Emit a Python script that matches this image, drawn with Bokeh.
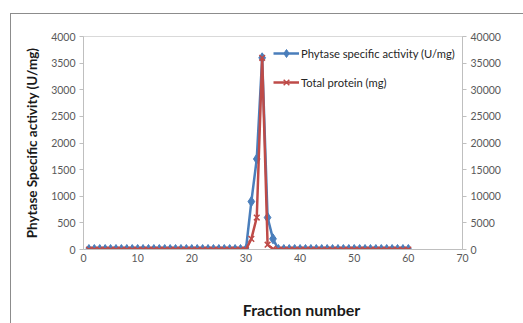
from bokeh.plotting import figure
from bokeh.models import (Range1d, LinearAxis, SingleIntervalTicker, Legend, LegendItem,
                          Label, ColumnDataSource)
from bokeh.embed import file_html
from bokeh.resources import INLINE

fraction = [1, 2, 3, 4, 5, 6, 7, 8, 9, 10, 11, 12, 13, 14, 15, 16, 17, 18, 19, 20,
            21, 22, 23, 24, 25, 26, 27, 28, 29, 30, 31, 32, 33, 34, 35, 36, 37, 38, 39, 40,
            41, 42, 43, 44, 45, 46, 47, 48, 49, 50, 51, 52, 53, 54, 55, 56, 57, 58, 59, 60]
activity = [0, 0, 0, 0, 0, 0, 0, 0, 0, 0, 0, 0, 0, 0, 0, 0, 0, 0, 0, 0,
            0, 0, 0, 0, 0, 0, 0, 0, 0, 0, 900, 1700, 3600, 600, 200, 0, 0, 0, 0, 0,
            0, 0, 0, 0, 0, 0, 0, 0, 0, 0, 0, 0, 0, 0, 0, 0, 0, 0, 0, 0]
protein = [0, 0, 0, 0, 0, 0, 0, 0, 0, 0, 0, 0, 0, 0, 0, 0, 0, 0, 0, 0,
           0, 0, 0, 0, 0, 0, 0, 0, 0, 0, 2000, 6000, 36000, 900, 100, 0, 0, 0, 0, 0,
           0, 0, 0, 0, 0, 0, 0, 0, 0, 0, 0, 0, 0, 0, 0, 0, 0, 0, 0, 0]
x_ticks = (0, 70, 10)
left_ticks = (0, 4000, 500)
right_ticks = (0, 40000, 5000)

BLUE = "#4A7EBB"
RED = "#BE4B48"
FONT = "Lato"

p = figure(width=523, height=323, output_backend="svg", toolbar_location=None,
           x_range=Range1d(x_ticks[0], x_ticks[1]),
           y_range=Range1d(left_ticks[0], left_ticks[1]),
           min_border_left=83, min_border_right=61, min_border_top=36, min_border_bottom=74)
p.extra_y_ranges = {"right": Range1d(right_ticks[0], right_ticks[1])}
p.grid.visible = False
p.outline_line_color = "#D9D9D9"
p.outline_line_width = 1
p.background_fill_color = "white"
p.border_fill_alpha = 0
p.styles = {
    "background": "linear-gradient(#8C8C8C,#8C8C8C) 10px 13px / 1px 100% no-repeat, "
                  "linear-gradient(#8C8C8C,#8C8C8C) 10px 13px / 100% 1px no-repeat, white"
}

def style_axis(ax, interval):
    ax.ticker = SingleIntervalTicker(interval=interval, num_minor_ticks=0)
    ax.minor_tick_line_color = None
    ax.axis_line_color = "#BFBFBF"
    ax.major_tick_line_color = "#BFBFBF"
    ax.major_tick_out = 4
    ax.major_tick_in = 0
    ax.major_label_text_font = FONT
    ax.major_label_text_font_size = "10.5px"
    ax.major_label_text_color = "#595959"
    ax.major_label_standoff = 4

style_axis(p.xaxis[0], x_ticks[2])
style_axis(p.yaxis[0], left_ticks[2])
p.xaxis[0].major_tick_out = 0
p.yaxis[0].axis_label = "Phytase Specific activity (U/mg)"
p.yaxis[0].axis_label_text_font = FONT
p.yaxis[0].axis_label_text_font_style = "bold"
p.yaxis[0].axis_label_text_font_size = "13.5px"
p.yaxis[0].axis_label_text_color = "#1A1A1A"
p.yaxis[0].axis_label_standoff = 8

right = LinearAxis(y_range_name="right")
style_axis(right, right_ticks[2])
p.add_layout(right, "right")

src = ColumnDataSource(dict(f=fraction, a=activity, pr=protein))
l1 = p.line("f", "a", source=src, line_color=BLUE, line_width=2.5)
m1 = p.scatter("f", "a", source=src, marker="diamond", size=10, fill_color=BLUE, line_color=BLUE)
l2 = p.line("f", "pr", source=src, y_range_name="right", line_color=RED, line_width=2.5)
m2 = p.scatter("f", "pr", source=src, y_range_name="right", marker="x", size=8,
               line_color=RED, line_width=1.5)

legend = Legend(items=[LegendItem(label="Phytase specific activity (U/mg)", renderers=[l1, m1]),
                       LegendItem(label="Total protein (mg)", renderers=[l2, m2])],
                location=(190, 157), margin=0, padding=0, spacing=9,
                glyph_width=26, glyph_height=20, label_height=20, label_standoff=2,
                label_text_font=FONT, label_text_font_size="11.2px", label_text_color="#262626",
                border_line_color=None, background_fill_alpha=0)
p.add_layout(legend)

xt = Label(x=218, y=-26, x_units="screen", y_units="screen", text="Fraction number",
           text_font=FONT, text_font_style="bold", text_font_size="16px",
           text_align="center", text_baseline="middle", text_color="#1A1A1A")
p.add_layout(xt, "below")

open("out.html", "w").write(file_html(p, INLINE))
